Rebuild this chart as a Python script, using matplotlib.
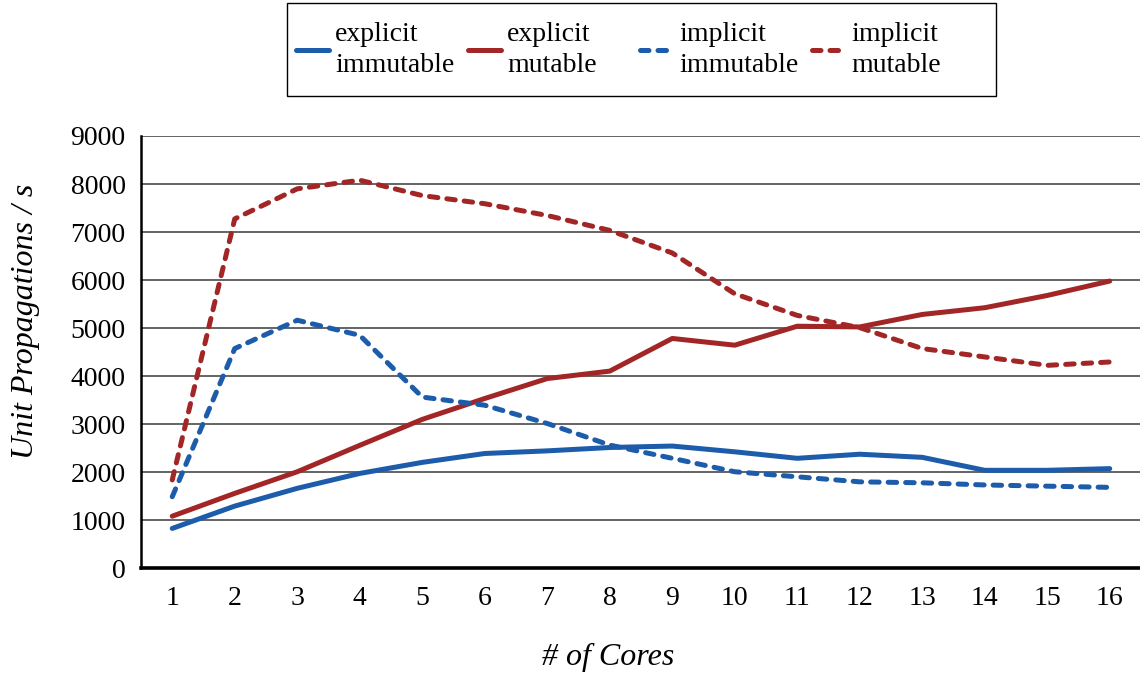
import matplotlib
matplotlib.use('Agg')
import matplotlib.pyplot as plt
from matplotlib.lines import Line2D
from matplotlib.patches import Rectangle

cores = list(range(1, 17))
explicit_immutable = [830, 1295, 1665, 1975, 2205, 2390, 2445, 2515, 2545, 2425, 2290, 2375, 2310, 2040, 2040, 2075]
explicit_mutable = [1085, 1560, 2010, 2560, 3100, 3535, 3950, 4105, 4785, 4645, 5040, 5025, 5285, 5425, 5680, 5980]
implicit_immutable = [1490, 4575, 5165, 4850, 3565, 3395, 3015, 2565, 2290, 2010, 1905, 1800, 1780, 1735, 1710, 1685]
implicit_mutable = [1840, 7275, 7900, 8080, 7760, 7590, 7345, 7035, 6565, 5715, 5265, 5010, 4575, 4400, 4225, 4295]

labels = ['explicit\nimmutable', 'explicit\nmutable', 'implicit\nimmutable', 'implicit\nmutable']
yticks = list(range(0, 9001, 1000))

BLUE = '#1C5CAB'
RED = '#A32626'
DASH = (0, (1.7, 1.8))

plt.rcParams['font.family'] = ['Liberation Serif', 'DejaVu Serif']

W, H = 1140, 674
fig = plt.figure(figsize=(W / 100, H / 100), dpi=100)
ax = fig.add_axes([141 / W, 105.7 / H, 1000 / W, 432.3 / H])

lw = 3.6
styles = [(BLUE, '-'), (RED, '-'), (BLUE, DASH), (RED, DASH)]
all_series = [explicit_immutable, explicit_mutable, implicit_immutable, implicit_mutable]
for vals, (col, ls), lab in zip(all_series, styles, labels):
    ax.plot(cores, vals, color=col, lw=lw, linestyle=ls, label=lab,
            dash_capstyle='round', solid_capstyle='round')

ax.set_xlim(0.5, 16.5)
ax.set_ylim(0, 9000)
ax.set_yticks(yticks)
ax.set_xticks(cores)
ax.yaxis.grid(True, color='#3a3a3a', lw=1.1)
ax.set_axisbelow(True)
ax.tick_params(axis='both', length=0, labelsize=20)
ax.tick_params(axis='y', pad=11)
ax.tick_params(axis='x', pad=13)

for s in ['top', 'right']:
    ax.spines[s].set_visible(False)
ax.spines['left'].set_linewidth(1.8)
ax.spines['bottom'].set_linewidth(2.6)

ax.set_ylabel('Unit Propagations / s', fontsize=23, style='italic', va='center')
ax.yaxis.set_label_coords((25 - 141) / 1000, (568.3 - 321) / 432.3)
ax.set_xlabel('# of Cores', fontsize=23, style='italic', va='center')
ax.xaxis.set_label_coords((608 - 141) / 1000, (568.3 - 657) / 432.3)

# legend box drawn by hand so the four columns have equal pitch, like the original
fig.patches.append(Rectangle((287 / W, 1 - 96 / H), (996 - 287) / W, 93 / H,
                             transform=fig.transFigure, fill=False,
                             edgecolor='black', lw=1.0))
for i, ((col, ls), lab) in enumerate(zip(styles, labels)):
    x0 = 296 + 172 * i
    fig.add_artist(Line2D([x0 / W, (x0 + 33) / W], [1 - 50 / H, 1 - 50 / H],
                          transform=fig.transFigure, color=col, lw=lw, linestyle=ls,
                          dash_capstyle='round', solid_capstyle='round'))
    fig.text((x0 + 39) / W, 1 - 50 / H, lab, fontsize=20, ha='left', va='center',
             linespacing=1.3)

fig.savefig('out.png', dpi=100)
